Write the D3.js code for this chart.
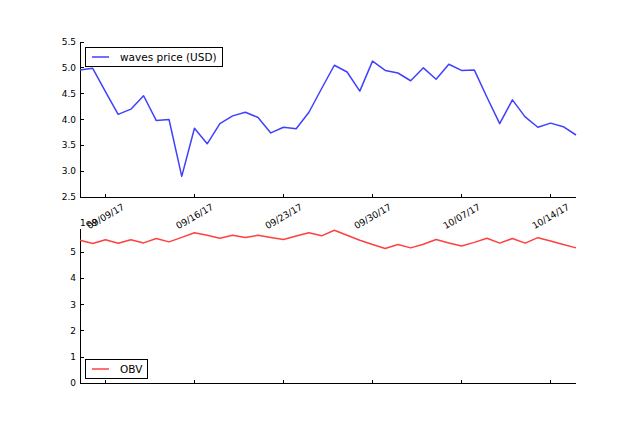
<!DOCTYPE html>
<html><head><meta charset="utf-8">
<script src="https://cdn.jsdelivr.net/npm/d3@7"></script>
<style>
html,body{margin:0;padding:0;background:#fff;}
text{font-family:"DejaVu Sans",sans-serif;fill:#000;}
</style></head>
<body><svg id="c" width="640" height="427"></svg>
<script>
const startDate = "2017-09-07";
const price = [4.96,4.99,4.54,4.10,4.20,4.46,3.98,4.00,2.90,3.83,3.53,3.92,4.07,4.14,4.04,3.74,3.85,3.82,4.14,4.60,5.05,4.92,4.55,5.13,4.95,4.90,4.75,5.00,4.78,5.07,4.95,4.96,4.43,3.92,4.38,4.05,3.85,3.93,3.86,3.70];
const obv = [5.45,5.33,5.47,5.34,5.47,5.35,5.52,5.39,5.56,5.74,5.64,5.53,5.64,5.56,5.64,5.56,5.48,5.61,5.74,5.62,5.83,5.64,5.45,5.29,5.14,5.29,5.16,5.30,5.48,5.35,5.23,5.37,5.53,5.34,5.52,5.34,5.55,5.42,5.29,5.16].map(v=>v*1e8);
const tickDates = ["2017-09-09","2017-09-16","2017-09-23","2017-09-30","2017-10-07","2017-10-14"];
const tickLabels = ["09/09/17","09/16/17","09/23/17","09/30/17","10/07/17","10/14/17"];
const priceTicks = [2.5,3.0,3.5,4.0,4.5,5.0,5.5];
const obvTicks = [0,1,2,3,4,5];
const priceLabel = "waves price (USD)";
const obvLabel = "OBV";

const parse = d3.utcParse("%Y-%m-%d");
const d0 = parse(startDate);
const dates = price.map((_,i)=>d3.utcDay.offset(d0,i));
const svg = d3.select("#c");

const x = d3.scaleUtc().domain([dates[0], dates[dates.length-1]]).range([80,576]);
const y1 = d3.scaleLinear().domain([2.5,5.5]).range([197,42]);
const y2 = d3.scaleLinear().domain([0,5.88e8]).range([383.3,229]);

function drawAxes(y, ticks, fmt, yBottom, yTop){
  const g = svg.append("g");
  // spines
  g.append("line").attr("x1",80).attr("x2",80).attr("y1",yTop).attr("y2",yBottom).attr("stroke","#000").attr("stroke-width",1).attr("shape-rendering","crispEdges");
  g.append("line").attr("x1",80).attr("x2",576).attr("y1",yBottom).attr("y2",yBottom).attr("stroke","#000").attr("stroke-width",1).attr("shape-rendering","crispEdges");
  ticks.forEach(t=>{
    const yy = y(t);
    g.append("line").attr("x1",80).attr("x2",84).attr("y1",yy).attr("y2",yy).attr("stroke","#000").attr("shape-rendering","crispEdges");
    g.append("text").attr("x",76).attr("y",yy).attr("text-anchor","end").attr("dominant-baseline","central").attr("font-size","9px").text(fmt(t));
  });
  return g;
}

drawAxes(y1, priceTicks, d3.format(".1f"), 197.5, 42);
drawAxes(y2, obvTicks.map(v=>v*1e8), v=>d3.format("d")(v/1e8), 383.5, 229);

// x ticks on top chart
tickDates.forEach((d,i)=>{
  const xx = x(parse(d));
  svg.append("line").attr("x1",xx).attr("x2",xx).attr("y1",197.5).attr("y2",193.5).attr("stroke","#000").attr("shape-rendering","crispEdges");
  svg.append("text").attr("transform",`translate(${xx},216) rotate(-30)`)
    .attr("text-anchor","middle").attr("dominant-baseline","central").attr("font-size","9.2px").text(tickLabels[i]);
});
// x ticks on bottom chart (no labels)
tickDates.forEach(d=>{
  const xx = x(parse(d));
  svg.append("line").attr("x1",xx).attr("x2",xx).attr("y1",383.5).attr("y2",379.5).attr("stroke","#000").attr("shape-rendering","crispEdges");
});

// offset text
svg.append("text").attr("x",80).attr("y",226).attr("font-size","9px").text("1e8");

// lines
const blue = "rgb(64,64,255)", red = "rgb(255,64,64)";
svg.append("path").datum(price).attr("fill","none").attr("stroke",blue).attr("stroke-width",1.5)
  .attr("stroke-linejoin","round")
  .attr("d", d3.line().x((d,i)=>x(dates[i])).y(d=>y1(d)));
svg.append("path").datum(obv).attr("fill","none").attr("stroke",red).attr("stroke-width",1.5)
  .attr("stroke-linejoin","round")
  .attr("d", d3.line().x((d,i)=>x(dates[i])).y(d=>y2(d)));

// legends
function legend(x0,y0,w,h,color,label){
  const g = svg.append("g");
  g.append("rect").attr("x",x0+0.5).attr("y",y0+0.5).attr("width",w).attr("height",h).attr("fill","#fff").attr("stroke","#000").attr("stroke-width",1);
  g.append("line").attr("x1",x0+7).attr("x2",x0+24).attr("y1",y0+h/2+0.5).attr("y2",y0+h/2+0.5).attr("stroke",color).attr("stroke-width",1.5);
  g.append("text").attr("x",x0+35).attr("y",y0+h/2+0.5).attr("dominant-baseline","central").attr("font-size","10.5px").text(label);
}
legend(85,47,137,19,blue,priceLabel);
legend(85,359,62,19,red,obvLabel);
</script></body></html>
